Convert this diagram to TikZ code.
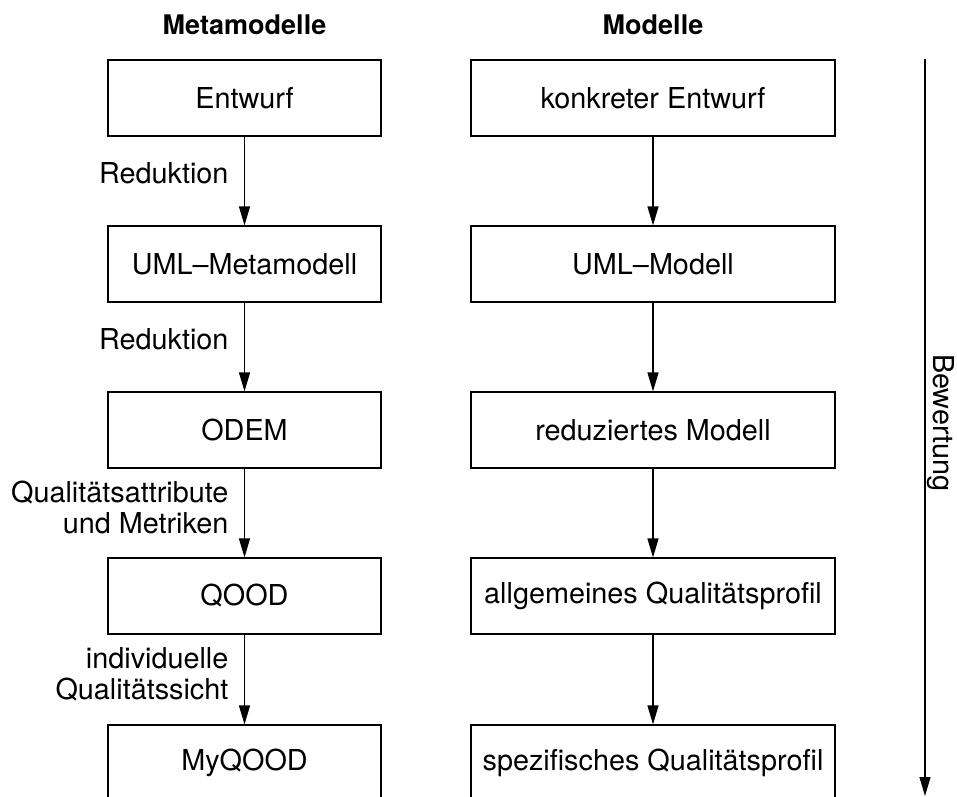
\documentclass[tikz,border=0pt]{standalone}
\usepackage{fontspec}
\setmainfont{TeX Gyre Heros}
\usepackage{tikz}
\usetikzlibrary{arrows.meta, positioning}

\begin{document}
\begin{tikzpicture}[
      box/.style={rectangle, draw=black, line width=1.2pt, minimum height=76pt, inner sep=0pt, font=\fontsize{28.8}{31}\selectfont},
      meta/.style={box, minimum width=273pt},
      model/.style={box, minimum width=364pt},
      arrow/.style={-{Triangle[length=19pt, width=11pt]}, line width=1.2pt},
      lbl/.style={font=\fontsize{28.8}{31}\selectfont, align=right, inner sep=0pt},
      head/.style={font=\fontsize{27}{30}\selectfont\bfseries},
      x=1pt, y=-1pt
    ]
    \useasboundingbox (0,0) rectangle (957,796);
    \clip (0,0) rectangle (957,796);

    % titles
    \node[head] (tmeta) at (244.5,25) {Metamodelle};
    \node[head] (tmodel) at (653,25) {Modelle};

    % metamodels
    \node[meta] (m1) at (244.5,98) {Entwurf};
    \node[meta] (m2) at (244.5,264) {UML--Metamodell};
    \node[meta] (m3) at (244.5,430) {ODEM};
    \node[meta] (m4) at (244.5,596) {QOOD};
    \node[meta] (m5) at (244.5,763) {MyQOOD};

    % models
    \node[model] (d1) at (653,98) {konkreter Entwurf};
    \node[model] (d2) at (653,264) {UML--Modell};
    \node[model] (d3) at (653,430) {reduziertes Modell};
    \node[model] (d4) at (653,596) {allgemeines Qualitätsprofil};
    \node[model] (d5) at (653,763) {spezifisches Qualitätsprofil};

    \draw[arrow] (m1) -- node[lbl, left=15.5pt, yshift=8pt] {Reduktion} (m2);
    \draw[arrow] (m2) -- node[lbl, left=15.5pt, yshift=8pt] {Reduktion} (m3);
    \draw[arrow] (m3) -- node[lbl, left=15.5pt, yshift=6pt] {Qualitätsattribute\\und Metriken} (m4);
    \draw[arrow] (m4) -- node[lbl, left=15.5pt, yshift=5pt] {individuelle\\Qualitätssicht} (m5);

    \draw[arrow] (d1) -- (d2);
    \draw[arrow] (d2) -- (d3);
    \draw[arrow] (d3) -- (d4);
    \draw[arrow] (d4) -- (d5);

    % evaluation axis
    \coordinate (btop) at (925,59);
    \coordinate (bend) at (925,796);
    \draw[arrow] (btop) -- (bend);
    \node[lbl, rotate=-90] (bew) at (941,423) {Bewertung};
  \end{tikzpicture}
\end{document}
